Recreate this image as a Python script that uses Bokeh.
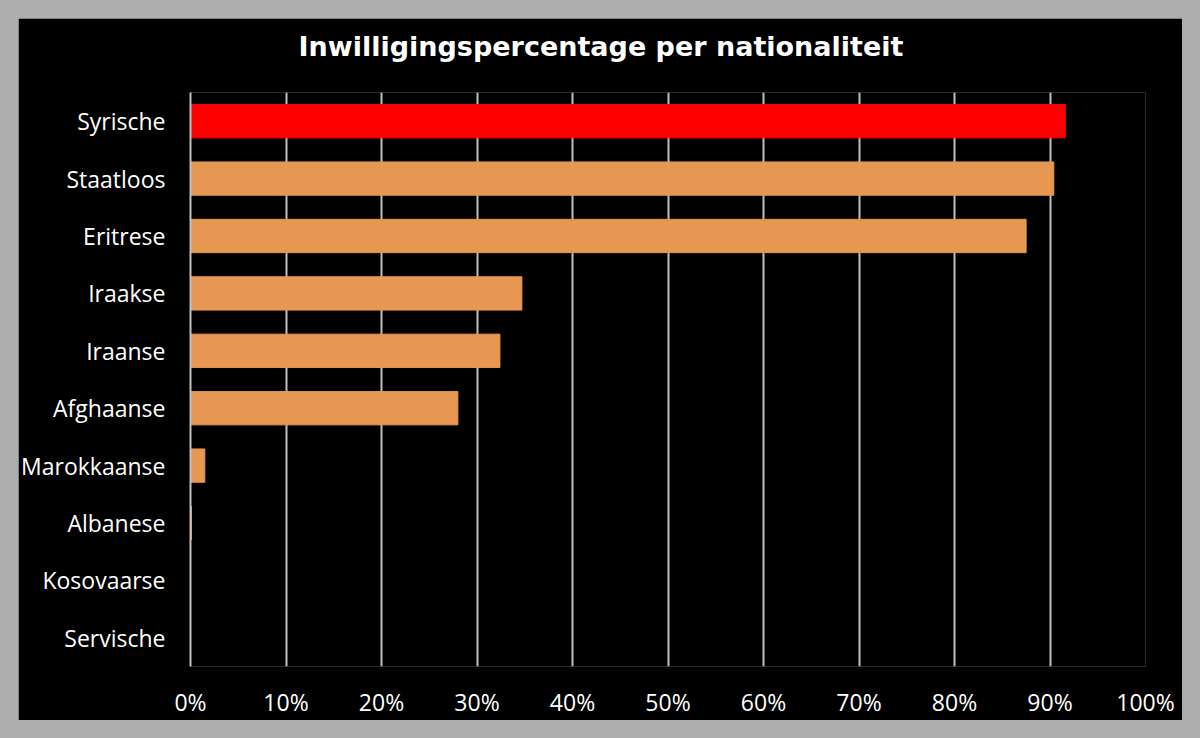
from bokeh.plotting import figure
from bokeh.layouts import column
from bokeh.models import Range1d, FixedTicker, NumeralTickFormatter, Title, ColumnDataSource
from bokeh.embed import file_html
from bokeh.resources import INLINE

categories = ["Syrische", "Staatloos", "Eritrese", "Iraakse", "Iraanse",
              "Afghaanse", "Marokkaanse", "Albanese", "Kosovaarse", "Servische"]
values = [0.916, 0.904, 0.875, 0.347, 0.324, 0.280, 0.015, 0.001, 0.0, 0.0]
colors = ["#FF0000"] + ["#E69852"] * 9
x_ticks = [0.0, 0.1, 0.2, 0.3, 0.4, 0.5, 0.6, 0.7, 0.8, 0.9, 1.0]
title_text = "Inwilligingspercentage per nationaliteit"

src = ColumnDataSource(dict(cat=categories, val=values, color=colors))

p = figure(width=1164, height=702, y_range=list(reversed(categories)),
           x_range=Range1d(0, 1), output_backend="svg", toolbar_location=None,
           min_border_left=170, min_border_right=37, min_border_top=10,
           min_border_bottom=50)
p.title = Title(text=title_text, align="left", text_color="white",
                text_font="DejaVu Sans", text_font_size="27px",
                text_font_style="bold", standoff=21, offset=108)
# spacer panel between title and plot area
p.add_layout(Title(text=" ", text_font_size="10px", standoff=7,
                   text_color="black"), "above")
p.border_fill_color = "black"
p.background_fill_color = "black"
p.outline_line_color = None

p.hbar(y="cat", right="val", left=0, height=0.58, color="color",
       line_color="color", source=src)

p.xgrid.ticker = FixedTicker(ticks=x_ticks)
p.xgrid.grid_line_color = "#BFBFBF"
p.xgrid.grid_line_width = 2
p.ygrid.grid_line_color = None

p.xaxis.ticker = FixedTicker(ticks=x_ticks)
p.xaxis.formatter = NumeralTickFormatter(format="0%")
for ax in (p.xaxis[0], p.yaxis[0]):
    ax.axis_line_color = None
    ax.major_tick_line_color = None
    ax.minor_tick_line_color = None
    ax.major_tick_out = 0
    ax.major_tick_in = 0
    ax.major_label_text_color = "white"
    ax.major_label_text_font = "Open Sans"
    ax.major_label_text_font_size = "23px"
p.yaxis.axis_line_color = "#BFBFBF"
p.yaxis.axis_line_width = 2
p.xaxis.major_label_standoff = 19
p.yaxis.major_label_standoff = 25

layout = column(p, styles={"padding": "18px", "background-color": "#ADADAD"})

open("out.html", "w").write(file_html(layout, INLINE))
